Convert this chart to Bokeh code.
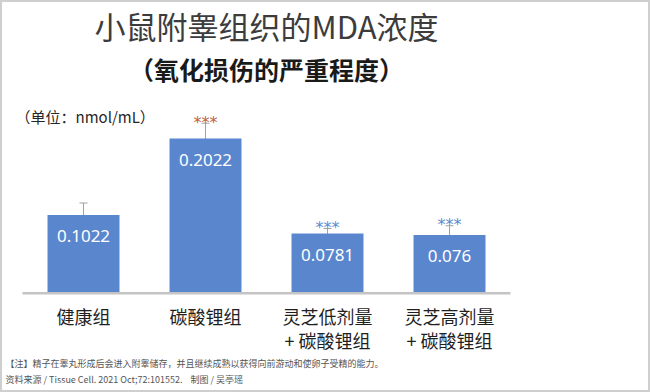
import numpy as np
from bokeh.plotting import figure
from bokeh.models import Range1d, ColumnDataSource, Whisker, TeeHead
from bokeh.core.properties import value
from bokeh.embed import file_html
from bokeh.resources import INLINE

# ---- data ----
categories_line1 = ["健康组", "碳酸锂组", "灵芝低剂量", "灵芝高剂量"]
categories_line2 = ["", "", "+ 碳酸锂组", "+ 碳酸锂组"]
mda_values = [0.1022, 0.2022, 0.0781, 0.076]
value_labels = ["0.1022", "0.2022", "0.0781", "0.076"]
errors = [0.0157, 0.0200, 0.0065, 0.0122]
significance = ["", "***", "***", "***"]
sig_colors = ["#c0603f", "#c0603f", "#5b8bd0", "#5b8bd0"]

title_text = "小鼠附睾组织的MDA浓度"
subtitle_text = "（氧化损伤的严重程度）"
unit_text = "（单位：nmol/mL）"
note_lines = ["【注】精子在睾丸形成后会进入附睾储存，并且继续成熟以获得向前游动和使卵子受精的能力。",
              "资料来源 / Tissue Cell. 2021 Oct;72:101552.\u00a0\u00a0\u00a0\u00a0制图 / 吴亭瑶"]

W, H = 650, 392
n = len(categories_line1)
idx = np.arange(n)

p = figure(width=W, height=H, output_backend="svg", toolbar_location=None,
           x_range=Range1d(-0.6803, 4.6475), y_range=Range1d(-0.1298, 0.3826),
           x_axis_type=None, y_axis_type=None, min_border=0)
p.grid.visible = False
p.outline_line_color = "#cfcfcf"
p.outline_line_width = 3
p.background_fill_color = "white"
p.border_fill_color = "white"

src = ColumnDataSource(dict(
    x=idx, top=mda_values, lab=value_labels,
    lower=[v - e for v, e in zip(mda_values, errors)],
    upper=[v + e for v, e in zip(mda_values, errors)],
    lab_y=[v - 0.028 for v in mda_values],
    sig=significance, sig_c=sig_colors,
    sig_y=[v + e + 0.0015 for v, e in zip(mda_values, errors)],
    cat1=categories_line1, cat2=categories_line2,
))

p.vbar(x="x", top="top", bottom=0, width=0.59, source=src,
       fill_color="#5a86ce", line_color=None)

# baseline axis line
p.segment(x0=[-0.5], y0=[0], x1=[n - 0.5], y1=[0], line_color="#c4c4c4", line_width=2.5)

w = Whisker(base="x", lower="lower", upper="upper", source=src,
            line_color="#a0a0a0", line_width=1,
            upper_head=TeeHead(size=8, line_color="#a0a0a0", line_width=1),
            lower_head=TeeHead(size=8, line_color="#8fa8d6", line_width=1))
p.add_layout(w)

# value labels inside bars
p.text(x="x", y="lab_y", text="lab", source=src, text_color="white",
       text_font=value("Noto Sans"), text_font_size="17px",
       text_align="center", text_baseline="middle")

# significance stars
p.text(x="x", y="sig_y", text="sig", source=src, text_color="sig_c",
       text_font=value("DejaVu Sans"), text_font_size="16px",
       text_align="center", text_baseline="alphabetic")

# category labels (two lines)
p.text(x="x", y=-0.0292, text="cat1", source=src, text_color="#1f1f1f",
       text_font=value("Noto Sans CJK SC"), text_font_size="18px",
       text_align="center", text_baseline="middle")
p.text(x="x", y=-0.0618, text="cat2", source=src, text_color="#1f1f1f",
       text_font=value("Noto Sans CJK SC"), text_font_size="18px",
       text_align="center", text_baseline="middle")

mid = (n - 1) / 2
p.text(x=[mid], y=[0.350], text=[title_text], text_color="#3c3c3c",
       text_font=value("Noto Sans CJK SC"), text_font_size="31px",
       text_align="center", text_baseline="middle")
p.text(x=[mid], y=[0.2937], text=[subtitle_text], text_color="#1a1a1a",
       text_font=value("Noto Sans CJK SC"), text_font_size="25px", text_font_style="bold",
       text_align="center", text_baseline="middle")
p.text(x=[-0.557], y=[0.231], text=[unit_text], text_color="#262626",
       text_font=value("Noto Sans CJK SC"), text_font_size="15px",
       text_align="left", text_baseline="middle")
p.text(x=[-0.639, -0.639], y=[-0.0919, -0.1128], text=note_lines, text_color="#555555",
       text_font=value("Noto Sans CJK SC"), text_font_size="9px",
       text_align="left", text_baseline="middle")

open("out.html", "w").write(file_html(p, INLINE))
